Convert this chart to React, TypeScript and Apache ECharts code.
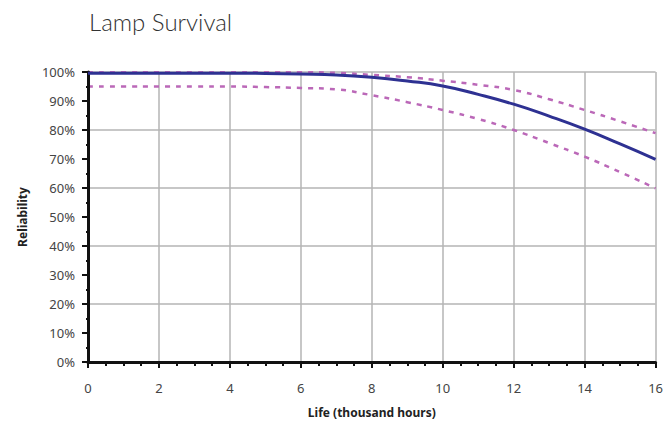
import React, { useEffect, useRef } from "react";
import * as echarts from "echarts";

const hours = [0, 1, 2, 3, 4, 5, 6, 7, 8, 9, 10, 11, 12, 13, 14, 15, 16];
const reliability = [99.6, 99.6, 99.6, 99.6, 99.6, 99.5, 99.3, 99.0, 98.2, 96.9, 95.2, 92.3, 88.9, 84.8, 80.3, 75.2, 69.9];
const upperBound = [99.9, 99.9, 99.9, 99.9, 99.9, 99.9, 99.9, 99.7, 99.0, 98.2, 97.0, 95.6, 93.8, 90.6, 86.9, 83.0, 78.9];
const lowerBound = [95.0, 95.0, 95.0, 95.0, 95.0, 94.8, 94.5, 94.0, 92.0, 89.6, 86.9, 83.8, 80.0, 75.5, 70.8, 65.5, 59.9];

const FONT = "'Noto Sans', sans-serif";

export default function App() {
  const ref = useRef<HTMLDivElement>(null);
  useEffect(() => {
    if (!ref.current) return;
    const chart = echarts.init(ref.current, null, { renderer: "svg" });
    const pair = (arr: number[]) => hours.map((h, i) => [h, arr[i]]);
    const dashed = {
      type: "line",
      showSymbol: false,
      smooth: true,
      lineStyle: { color: "#bb68b8", width: 2.5, type: [5, 6] },
      z: 3,
    };
    chart.setOption({
      animation: false,
      textStyle: { fontFamily: FONT },
      title: {
        text: "Lamp Survival",
        left: 84,
        top: 4,
        textStyle: { fontSize: 24, fontWeight: 300, color: "#333", fontFamily: "Lato, 'Noto Sans', sans-serif" },
      },
      grid: { left: 88, right: 10, top: 72, bottom: 64 },
      xAxis: {
        type: "value",
        min: 0,
        max: 16,
        interval: 2,
        name: "Life (thousand hours)",
        nameLocation: "middle",
        nameGap: 44,
        nameTextStyle: { fontSize: 12, fontWeight: "bold", color: "#222" },
        axisLine: { show: true, lineStyle: { color: "#111", width: 3 } },
        axisTick: { show: true, inside: false, length: 6, lineStyle: { color: "#111", width: 2 } },
        minorTick: { show: true, splitNumber: 4, length: 4, lineStyle: { color: "#111", width: 2 } },
        axisLabel: { fontSize: 13, color: "#444", margin: 19 },
        splitLine: { show: true, lineStyle: { color: "#b4b4b4", width: 1.5 } },
      },
      yAxis: [
        {
          type: "value",
          min: 0,
          max: 100,
          interval: 10,
          name: "Reliability",
          nameLocation: "middle",
          nameGap: 60,
          nameTextStyle: { fontSize: 12, fontWeight: "bold", color: "#222" },
          axisLine: { show: true, lineStyle: { color: "#111", width: 3 } },
          axisTick: { show: true, length: 6, lineStyle: { color: "#111", width: 2 } },
          minorTick: { show: true, splitNumber: 2, length: 2, lineStyle: { color: "#111", width: 2 } },
          axisLabel: { fontSize: 13, color: "#444", margin: 13, formatter: "{value}%" },
          splitLine: { show: false },
          z: 4,
        },
        {
          type: "value",
          min: 0,
          max: 100,
          interval: 20,
          position: "left",
          axisLine: { show: false },
          axisTick: { show: false },
          axisLabel: { show: false },
          splitLine: { show: true, lineStyle: { color: "#b4b4b4", width: 1.5 } },
        },
      ],
      series: [
        { ...dashed, name: "Upper", data: pair(upperBound) },
        { ...dashed, name: "Lower", data: pair(lowerBound) },
        {
          type: "line",
          name: "Reliability",
          showSymbol: false,
          smooth: true,
          lineStyle: { color: "#2e3192", width: 3 },
          data: pair(reliability),
          z: 4,
        },
      ],
    });
    return () => chart.dispose();
  }, []);
  return (
    <div
      ref={ref}
      style={{ position: "fixed", left: 0, top: 0, width: 666, height: 426, background: "#fff" }}
    />
  );
}
